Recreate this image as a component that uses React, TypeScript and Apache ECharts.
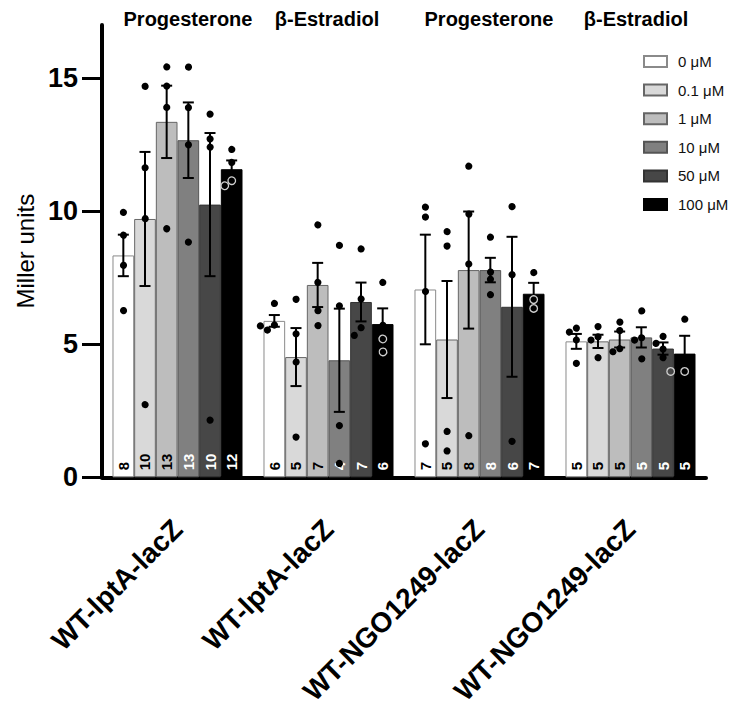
import React, { useEffect, useRef } from 'react';
import * as echarts from 'echarts';

// ---------- data ----------
const categories = ['WT-lptA-lacZ', 'WT-lptA-lacZ', 'WT-NGO1249-lacZ', 'WT-NGO1249-lacZ'];
const treatments = ['Progesterone', 'β-Estradiol', 'Progesterone', 'β-Estradiol'];
const concentrations = ['0 μM', '0.1 μM', '1 μM', '10 μM', '50 μM', '100 μM'];
const yTicks = [0, 5, 10, 15];

// mean Miller units per group (one array per concentration)
const mean0 = [8.34, 5.88, 7.06, 5.11];
const mean01 = [9.71, 4.52, 5.18, 5.11];
const mean1 = [13.36, 7.23, 7.79, 5.18];
const mean10 = [12.67, 4.4, 7.79, 5.26];
const mean50 = [10.25, 6.59, 6.41, 4.84];
const mean100 = [11.58, 5.76, 6.9, 4.65];

// SEM
const sem0 = [0.78, 0.22, 2.06, 0.28];
const sem01 = [2.52, 1.09, 2.2, 0.25];
const sem1 = [1.36, 0.83, 2.2, 0.3];
const sem10 = [1.42, 1.94, 0.46, 0.38];
const sem50 = [2.69, 0.73, 2.63, 0.23];
const sem100 = [0.33, 0.59, 0.41, 0.67];

// n per bar
const n0 = [8, 6, 7, 5];
const n01 = [10, 5, 5, 5];
const n1 = [13, 7, 8, 5];
const n10 = [13, 4, 8, 5];
const n50 = [10, 7, 6, 5];
const n100 = [12, 6, 7, 5];

// individual points
const pts0 = [[9.99, 9.14, 8.01, 6.31], [6.57, 5.76, 5.57, 5.72], [10.19, 9.82, 7.02, 1.29], [5.48, 5.63, 5.18, 4.31]];
const pts01 = [[14.73, 11.67, 9.77, 2.77], [6.72, 5.42, 4.37, 1.54], [9.27, 8.72, 1.76, 1.02], [5.69, 5.3, 5.18, 4.52]];
const pts1 = [[15.46, 14.73, 13.93, 9.37], [9.53, 7.37, 6.32, 5.76], [11.73, 9.94, 8.05, 1.6], [5.88, 5.55, 4.87, 4.77]];
const pts10 = [[15.46, 13.93, 12.53, 8.87], [8.75, 6.47, 1.97, 0.55], [9.06, 7.76, 7.48, 6.9], [6.32, 5.3, 5.21, 4.52]];
const pts50 = [[13.68, 12.75, 12.45, 2.18], [8.62, 6.74, 5.39, 5.66], [10.2, 7.64, 1.38], [5.32, 5.05, 4.84, 4.52]];
const pts100 = [[12.36, 11.87, 10.99, 11.18], [7.36, 5.76, 5.24, 4.77], [7.73, 6.68, 6.35], [5.98, 3.98, 3.98]];

const means = [mean0, mean01, mean1, mean10, mean50, mean100];
const sems = [sem0, sem01, sem1, sem10, sem50, sem100];
const counts = [n0, n01, n1, n10, n50, n100];
const points = [pts0, pts01, pts1, pts10, pts50, pts100];

// ---------- styles ----------
const barColors = ['#ffffff', '#d9d9d9', '#bdbdbd', '#808080', '#474747', '#000000'];
const barBorders = ['#8a8a8a', '#666666', '#666666', '#555555', '#333333', '#000000'];
const countColors = ['#000', '#000', '#000', '#fff', '#fff', '#fff'];
const BAR_RATIO = 0.1435;
const FONT = 'Arial, "Liberation Sans", Helvetica, sans-serif';
const treatmentX = [188, 327, 489, 636];

function swarm(ys: number[], r: number, step: number): number[] {
  const order = ys.map((y, i) => i).sort((a, b) => ys[a] - ys[b]);
  const placed: { x: number; y: number }[] = [];
  const offs = new Array(ys.length).fill(0);
  const cands = [0, -1, 1, -2, 2, -3, 3];
  for (const i of order) {
    for (const c of cands) {
      const x = c * step;
      const ok = placed.every((p) => (p.x - x) ** 2 + (p.y - ys[i]) ** 2 >= (2 * r) ** 2);
      if (ok) {
        offs[i] = x;
        placed.push({ x, y: ys[i] });
        break;
      }
    }
  }
  return offs;
}

export default function App() {
  const ref = useRef<HTMLDivElement>(null);
  useEffect(() => {
    if (!ref.current) return;
    const chart = echarts.init(ref.current, undefined, { renderer: 'svg' });

    const barSeries = concentrations.map((name, s) => ({
      name,
      type: 'bar',
      data: means[s],
      barWidth: (BAR_RATIO * 100).toFixed(2) + '%',
      barGap: '0%',
      z: 2,
      itemStyle: { color: barColors[s], borderColor: barBorders[s], borderWidth: 1 },
      label: {
        show: true,
        position: 'insideBottom',
        rotate: 90,
        align: 'left',
        verticalAlign: 'middle',
        distance: 7,
        fontSize: 15,
        fontWeight: 'bold',
        fontFamily: FONT,
        color: countColors[s],
        formatter: (p: any) => String(counts[s][p.dataIndex]),
      },
    }));

    const customData: number[][] = [];
    for (let g = 0; g < categories.length; g++) {
      for (let s = 0; s < concentrations.length; s++) customData.push([g, s]);
    }

    const errSeries = {
      name: 'points',
      type: 'custom',
      z: 5,
      encode: { x: 0, y: 1 },
      data: customData,
      renderItem: (params: any, api: any) => {
        const g = api.value(0) as number;
        const s = api.value(1) as number;
        const center = api.coord([g, 0]);
        const band = api.size([1, 0])[0];
        const bw = band * BAR_RATIO;
        const x = center[0] + (s - 2.5) * bw;
        const m = means[s][g];
        const e = sems[s][g];
        const yTop = api.coord([g, m + e])[1];
        const yBot = api.coord([g, m - e])[1];
        const cw = 5.5;
        const ls = { stroke: '#000', lineWidth: 2 };
        const children: any[] = [
          { type: 'line', shape: { x1: x, y1: yTop, x2: x, y2: yBot }, style: ls },
          { type: 'line', shape: { x1: x - cw, y1: yTop, x2: x + cw, y2: yTop }, style: ls },
          { type: 'line', shape: { x1: x - cw, y1: yBot, x2: x + cw, y2: yBot }, style: ls },
        ];
        const vals = points[s][g];
        const ys = vals.map((v) => api.coord([g, v])[1]);
        const r = 3.6;
        const offs = swarm(ys, r, 7);
        vals.forEach((v, i) => {
          const hollow = s === 5 && v < m;
          children.push({
            type: 'circle',
            shape: { cx: x + offs[i], cy: ys[i], r: hollow ? 3.8 : r },
            style: hollow ? { fill: 'none', stroke: '#d0d0d0', lineWidth: 1.3 } : { fill: '#000' },
          });
        });
        return { type: 'group', children };
      },
    };

    chart.setOption({
      animation: false,
      textStyle: { fontFamily: FONT },
      grid: { left: 102, right: 26, top: 25, bottom: 223 },
      legend: {
        data: concentrations,
        orient: 'vertical',
        left: 638,
        top: 49,
        itemWidth: 23,
        itemHeight: 11,
        itemGap: 13.6,
        icon: 'rect',
        selectedMode: false,
        textStyle: { fontSize: 15, color: '#111', fontFamily: FONT, padding: [0, 0, 0, 6] },
      },
      xAxis: {
        type: 'category',
        data: categories,
        axisLine: { lineStyle: { color: '#000', width: 4 } },
        axisTick: { alignWithLabel: true, length: 20, lineStyle: { color: '#000', width: 4 } },
        axisLabel: {
          interval: 0,
          rotate: 45,
          align: 'right',
          verticalAlign: 'middle',
          margin: 47,
          fontSize: 28,
          fontWeight: 'bold',
          color: '#000',
          fontFamily: FONT,
        },
      },
      yAxis: {
        type: 'value',
        min: 0,
        max: 17,
        interval: 5,
        name: 'Miller units',
        nameLocation: 'middle',
        nameRotate: 90,
        nameGap: 64,
        nameTextStyle: { fontSize: 24, color: '#000', fontFamily: FONT },
        splitLine: { show: false },
        axisLine: { show: true, lineStyle: { color: '#000', width: 4 } },
        axisTick: { show: true, length: 20, customValues: yTicks, lineStyle: { color: '#000', width: 3 } },
        axisLabel: {
          customValues: yTicks,
          margin: 24,
          fontSize: 27,
          fontWeight: 'bold',
          color: '#000',
          fontFamily: FONT,
        },
      },
      graphic: treatments.map((t, i) => ({
        type: 'text',
        x: treatmentX[i],
        y: 19,
        style: {
          text: t,
          fontSize: 20,
          fontWeight: 'bold',
          fontFamily: FONT,
          fill: '#000',
          textAlign: 'center',
          textVerticalAlign: 'middle',
        },
      })),
      series: [...barSeries, errSeries],
    });

    return () => chart.dispose();
  }, []);

  return (
    <div
      ref={ref}
      style={{ position: 'fixed', left: 0, top: 0, width: 732, height: 708, background: '#fff' }}
    />
  );
}
